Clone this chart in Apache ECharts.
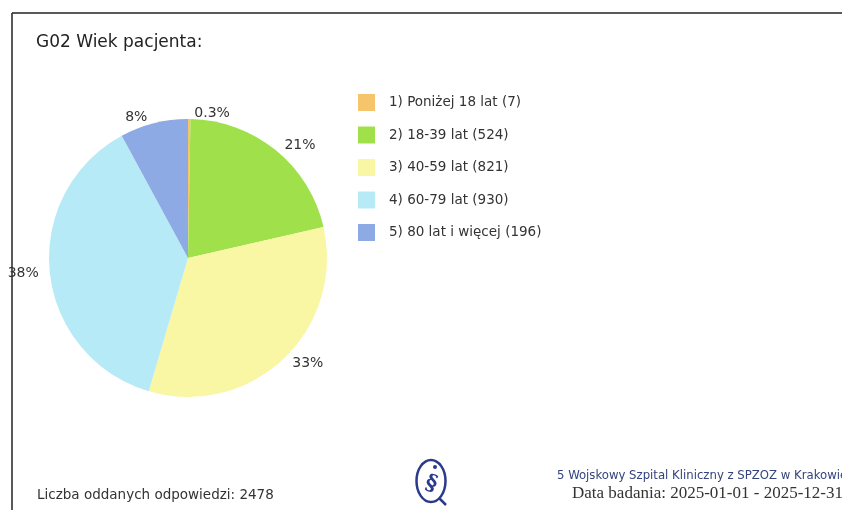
<!DOCTYPE html>
<html>
<head>
<meta charset="utf-8">
<script src="https://cdn.jsdelivr.net/npm/echarts@6/dist/echarts.min.js"></script>
<style>
  html, body { margin: 0; padding: 0; background: #fff; }
  #container { width: 842px; height: 510px; }
</style>
</head>
<body>
<div id="container"></div>
<script>
// dane wykresu
var categories = ['1) Poniżej 18 lat', '2) 18-39 lat', '3) 40-59 lat', '4) 60-79 lat', '5) 80 lat i więcej'];
var counts = [7, 524, 821, 930, 196];
var totalAnswers = 2478;
var footerHospital = '5 Wojskowy Szpital Kliniczny z SPZOZ w Krakowie';
var footerDate = 'Data badania: 2025-01-01 - 2025-12-31';

var colors = ['#f6c46a', '#a0e04a', '#f9f7a4', '#b6eaf6', '#8eaae5'];
var fontMain = '"DejaVu Sans", sans-serif';
var fontCond = '"DejaVu Sans Condensed", "DejaVu Sans", sans-serif';

var pieData = categories.map(function (name, i) {
	return { name: name + ' (' + counts[i] + ')', value: counts[i] };
});

var dom = document.getElementById('container');
var myChart = echarts.init(dom);

var option = {
	backgroundColor: '#fff',
	animation: false,
	color: colors,
	title: {
		text: 'G02 Wiek pacjenta:',
		left: 31,
		top: 29,
		textStyle: { fontFamily: fontMain, fontSize: 17, fontWeight: 'normal', color: '#222' }
	},
	legend: {
		orient: 'vertical',
		left: 353,
		top: 89,
		icon: 'rect',
		itemWidth: 17,
		itemHeight: 17,
		itemGap: 15.5,
		selectedMode: false,
		textStyle: { fontFamily: fontMain, fontSize: 13.5, color: '#333', padding: [0, 0, 0, 9] },
		data: pieData.map(function (d) { return d.name; })
	},
	series: [{
		type: 'pie',
		center: [188, 258],
		radius: 139,
		startAngle: 90,
		clockwise: true,
		avoidLabelOverlap: false,
		label: {
			show: true,
			position: 'outside',
			fontFamily: fontMain,
			fontSize: 14,
			color: '#333',
			formatter: function (p) {
				var pct = p.value / totalAnswers * 100;
				return (pct < 1 ? pct.toFixed(1) : Math.round(pct)) + '%';
			}
		},
		labelLine: { show: false, length: 6, length2: 0 },
		itemStyle: { borderWidth: 0 },
		emphasis: { disabled: true },
		data: pieData
	}],
	graphic: [
		// ramka
		{ type: 'line', shape: { x1: 12, y1: 13, x2: 842, y2: 13 }, style: { stroke: '#222', lineWidth: 1.5 } },
		{ type: 'line', shape: { x1: 12, y1: 13, x2: 12, y2: 510 }, style: { stroke: '#222', lineWidth: 1.5 } },
		{
			type: 'text', left: 37, top: 488,
			style: { text: 'Liczba oddanych odpowiedzi: ' + totalAnswers, font: '13.5px ' + fontMain, fill: '#333' }
		},
		// logo
		{ type: 'ellipse', shape: { cx: 431, cy: 481, rx: 14.5, ry: 21 }, style: { fill: 'none', stroke: '#2b3a8a', lineWidth: 2.5 } },
		{ type: 'line', shape: { x1: 439, y1: 498, x2: 446, y2: 505 }, style: { stroke: '#2b3a8a', lineWidth: 2.5 } },
		{ type: 'circle', shape: { cx: 435, cy: 467, r: 2 }, style: { fill: '#2b3a8a' } },
		{
			type: 'text', x: 431, y: 484, rotation: -0.35,
			style: { text: '§', font: 'bold 22px "DejaVu Serif", serif', fill: '#2b3a8a', align: 'center', verticalAlign: 'middle' }
		},
		{
			type: 'text', left: 557, top: 469,
			style: { text: footerHospital, font: '13px ' + fontCond, fill: '#34447e' }
		},
		{
			type: 'text', left: 572, top: 485,
			style: { text: footerDate, font: '17px "Liberation Serif", serif', fill: '#333' }
		}
	]
};

myChart.setOption(option, true);
</script>
</body>
</html>
